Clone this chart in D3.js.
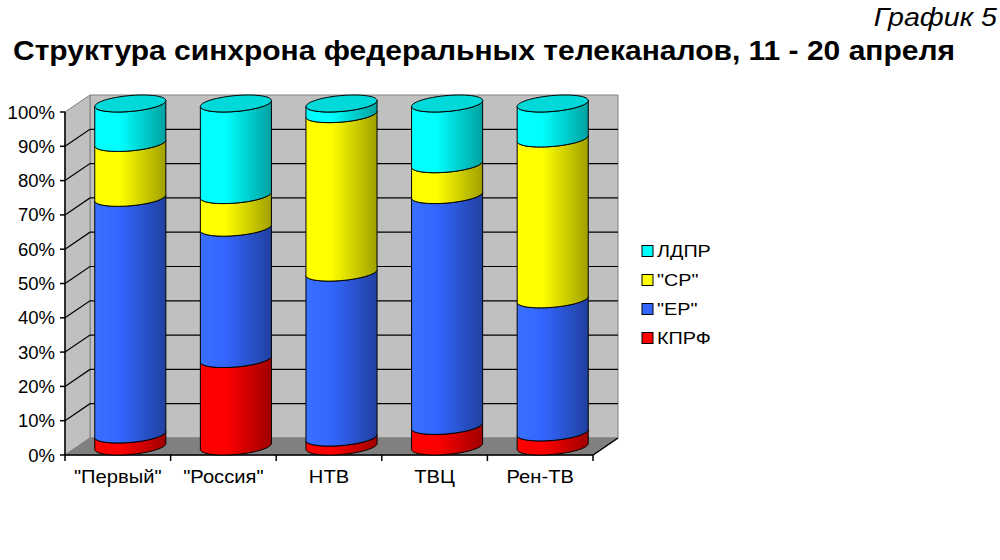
<!DOCTYPE html>
<html>
<head>
<meta charset="utf-8">
<script src="https://cdn.jsdelivr.net/npm/d3@7"></script>
<style>
  body { margin: 0; background: #fff; }
  svg { font-family: "Liberation Sans", Arial, sans-serif; }
</style>
</head>
<body>
<svg id="chart" width="1000" height="560"></svg>
<script>
// data (percent of airtime per channel)
var channels = ['"Первый"', '"Россия"', "НТВ", "ТВЦ", "Рен-ТВ"];
var parties = ["КПРФ", '"ЕР"', '"СР"', "ЛДПР"];
var kprf = [3.5, 25.5, 2.6, 6.0, 4.1];
var er   = [69.0, 38.3, 48.1, 67.3, 38.8];
var sr   = [16.0, 9.5, 46.2, 9.0, 46.9];
var ldpr = [11.5, 26.7, 3.1, 17.7, 10.2];
var yTicks = [0, 10, 20, 30, 40, 50, 60, 70, 80, 90, 100];
var colors = ["#ff0000", "#3366ff", "#ffff00", "#00ffff"];

var series = [kprf, er, sr, ldpr];

// layout
var plot = {left: 65, right: 593, top: 112, bottom: 455},
  depth = {x: 25, y: -17};

var svg = d3.select("#chart");

var x = d3.scaleBand().domain(channels).range([plot.left, plot.right]),
  y = d3.scaleLinear().domain([0, 100]).range([plot.bottom, plot.top]);

// text that is a bit wider than the font (as in the source picture)
function wideText(parent, tx, ty, sx, anchor, size, str) {
  return parent.append("text")
    .attr("transform", "translate(" + tx + "," + ty + ") scale(" + sx + ",1)")
    .attr("text-anchor", anchor).attr("font-size", size).text(str);
}

// gradients for the cylinder sides
var defs = svg.append("defs");
colors.forEach(function(c, i) {
  var g = defs.append("linearGradient").attr("id", "grad" + i)
    .attr("x1", "0%").attr("x2", "100%").attr("y1", "0%").attr("y2", "0%");
  g.append("stop").attr("offset", "0%").attr("stop-color", d3.color(c).brighter(0.25));
  g.append("stop").attr("offset", "35%").attr("stop-color", c);
  g.append("stop").attr("offset", "100%").attr("stop-color", d3.color(c).darker(1.3));
});

// walls and floor
var bx0 = plot.left + depth.x, bx1 = plot.right + depth.x,
  by0 = plot.top + depth.y, by1 = plot.bottom + depth.y;

function poly(pts) { return "M" + pts.map(function(p) { return p.join(","); }).join("L") + "Z"; }

svg.append("path").attr("d", poly([[bx0, by0], [bx1, by0], [bx1, by1], [bx0, by1]]))
  .attr("fill", "#c0c0c0").attr("stroke", "#808080");
svg.append("path").attr("d", poly([[plot.left, plot.top], [bx0, by0], [bx0, by1], [plot.left, plot.bottom]]))
  .attr("fill", "#c0c0c0").attr("stroke", "#808080");
svg.append("path").attr("d", poly([[plot.left, plot.bottom], [bx0, by1], [bx1, by1], [plot.right, plot.bottom]]))
  .attr("fill", "#808080").attr("stroke", "#808080");

// gridlines on left and back walls
var grid = svg.append("g").attr("stroke", "#000").attr("stroke-width", 1.2).attr("fill", "none");
yTicks.filter(function(t) { return t > 0 && t < 100; }).forEach(function(t) {
  grid.append("path").attr("d", "M" + plot.left + "," + y(t) + "L" + bx0 + "," + (y(t) + depth.y) +
    "L" + bx1 + "," + (y(t) + depth.y));
});

// axes
var axes = svg.append("g").attr("stroke", "#000").attr("stroke-width", 1.5).attr("fill", "none");
axes.append("path").attr("d", "M" + plot.left + "," + plot.top + "L" + plot.left + "," + plot.bottom +
  "L" + plot.right + "," + plot.bottom + "L" + (plot.right + depth.x) + "," + (plot.bottom + depth.y));
yTicks.forEach(function(t) {
  axes.append("path").attr("d", "M" + (plot.left - 5) + "," + y(t) + "L" + plot.left + "," + y(t));
});
x.domain().concat(["end"]).forEach(function(c, i) {
  var xx = plot.left + i * x.step();
  axes.append("path").attr("d", "M" + xx + "," + plot.bottom + "L" + xx + "," + (plot.bottom + 6));
});

var yLabels = svg.append("g");
yTicks.forEach(function(t) {
  wideText(yLabels, 55, y(t) + 6.5, 1.06, "end", 17.5, t + "%");
});

var xLabels = svg.append("g");
channels.forEach(function(c) {
  wideText(xLabels, x(c) + x.bandwidth() / 2, plot.bottom + 28, 1.12, "middle", 18, c);
});

// cylinders
var rx = x.bandwidth() * 0.315, // horizontal radius
  ex = depth.x / 2, ey = -depth.y / 2, // depth half-extent
  thR = Math.atan2(ex, rx);

function pt(cx, cy, th) {
  return [cx + rx * Math.cos(th) + ex * Math.sin(th), cy - ey * Math.sin(th)];
}
function frontHalf(cx, cy, reverse) {
  var pts = d3.range(0, 41).map(function(k) { return pt(cx, cy, thR + Math.PI + Math.PI * k / 40); });
  return reverse ? pts.reverse() : pts;
}
function fullEllipse(cx, cy) {
  return d3.range(0, 80).map(function(k) { return pt(cx, cy, 2 * Math.PI * k / 80); });
}

var cyl = svg.append("g");
channels.forEach(function(c, i) {
  var cx = x(c) + x.bandwidth() / 2 + depth.x / 2,
    base = 0;
  series.forEach(function(s, j) {
    var lo = base, hi = base + s[i];
    base = hi;
    var cy0 = y(lo) + depth.y / 2, cy1 = y(hi) + depth.y / 2;
    cyl.append("path")
      .attr("d", poly(frontHalf(cx, cy1, false).concat(frontHalf(cx, cy0, true))))
      .attr("fill", "url(#grad" + j + ")")
      .attr("stroke", "#000").attr("stroke-width", 1).attr("stroke-linejoin", "round");
    if (j === series.length - 1) {
      cyl.append("path").attr("d", poly(fullEllipse(cx, cy1)))
        .attr("fill", d3.color(colors[j]).darker(0.45))
        .attr("stroke", "#000").attr("stroke-width", 1);
    }
  });
});

// legend
var legend = svg.append("g").attr("transform", "translate(642,251)");
parties.slice().reverse().forEach(function(p, k) {
  var j = parties.length - 1 - k;
  var row = legend.append("g").attr("transform", "translate(0," + k * 29 + ")");
  row.append("rect").attr("x", 0).attr("y", -5.5).attr("width", 11).attr("height", 11)
    .attr("fill", colors[j]).attr("stroke", "#000");
  wideText(row, 15, 5.5, 1.2, "start", 16.5, p);
});

// titles
svg.append("text").attr("x", 13).attr("y", 60).attr("font-size", 28.5).attr("font-weight", "bold")
  .attr("textLength", 942).attr("lengthAdjust", "spacingAndGlyphs")
  .text("Структура синхрона федеральных телеканалов, 11 - 20 апреля");
wideText(svg, 997, 26, 1.1, "end", 26, "График 5").attr("font-style", "italic");
</script>
</body>
</html>
